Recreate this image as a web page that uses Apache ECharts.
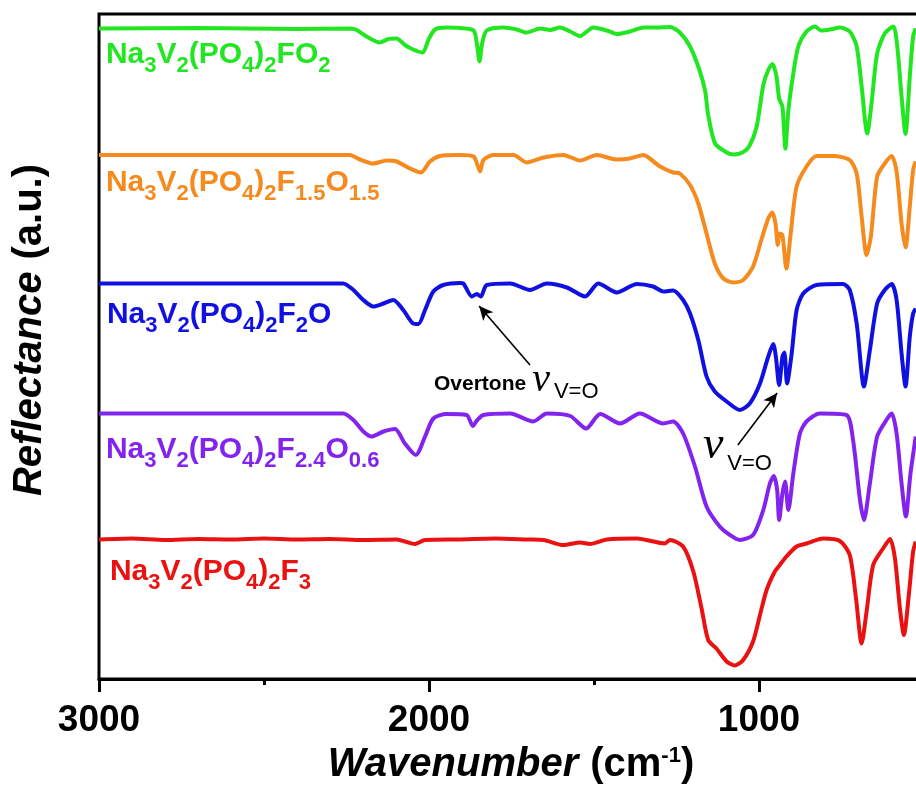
<!DOCTYPE html>
<html lang="en">
<head>
<meta charset="UTF-8">
<title>Reflectance spectra</title>
<script src="https://cdn.jsdelivr.net/npm/echarts@6.0.0/dist/echarts.min.js"></script>
<style>
  html, body { margin: 0; padding: 0; background: #fff; }
  #chart { width: 916px; height: 801px; }
</style>
</head>
<body>
<div id="chart"></div>
<script>
// spectra: [wavenumber (cm-1), reflectance (a.u., offset)]
var specFO2 = [[3000,130.1],[2700,130.2],[2400,130.0],[2240,130.1],[2219,129.8],[2189,128.5],[2149,127.3],[2123,128.0],[2098,128.1],[2073,126.8],[2048,125.9],[2019,125.3],[2002,127.8],[1982,129.9],[1947,130.3],[1906,130.2],[1865,129.7],[1855,127.1],[1847,123.5],[1839,127.1],[1825,129.7],[1774,130.3],[1734,129.9],[1704,129.3],[1663,130.1],[1633,129.8],[1603,130.3],[1572,129.5],[1542,128.6],[1502,130.3],[1461,129.7],[1431,129.0],[1391,129.5],[1350,130.3],[1310,130.3],[1270,130.4],[1240,129.3],[1209,126.5],[1179,121.5],[1163,117.5],[1154,112.8],[1133,107.1],[1098,105.3],[1077,104.9],[1050,105.3],[1030,106.5],[1007,110.5],[987,118.8],[972,121.8],[959,123.0],[947,120.5],[939,116.1],[929,114.5],[920,106.1],[911,113.8],[896,121.1],[881,126.5],[856,129.5],[831,130.5],[811,129.7],[785,129.9],[755,130.3],[725,129.5],[704,126.5],[689,118.5],[672,109.1],[659,115.1],[642,125.1],[619,129.1],[593,130.5],[581,126.5],[568,116.5],[556,109.0],[543,120.5],[533,128.5],[525,130.1]];

var specF15O15 = [[3000,104.8],[2700,104.8],[2400,104.8],[2240,104.8],[2209,103.9],[2169,103.1],[2128,103.7],[2098,103.5],[2058,102.1],[2025,101.3],[1997,103.5],[1967,104.6],[1906,104.8],[1865,104.5],[1853,102.8],[1845,101.5],[1835,103.8],[1805,104.8],[1744,104.8],[1704,103.3],[1653,104.3],[1593,104.8],[1542,103.7],[1492,104.8],[1431,103.9],[1391,104.1],[1350,104.8],[1331,104.1],[1300,102.5],[1260,101.3],[1240,101.1],[1209,98.8],[1184,95.1],[1159,89.1],[1134,83.1],[1108,80.1],[1078,79.3],[1048,79.8],[1018,82.5],[993,87.8],[972,92.1],[960,93.3],[950,91.1],[943,86.8],[937,89.1],[929,88.8],[917,82.1],[904,89.1],[886,98.5],[856,102.5],[826,104.6],[775,104.6],[725,103.8],[704,101.1],[689,92.5],[674,84.8],[661,88.5],[642,100.5],[619,103.1],[598,104.6],[583,101.5],[568,91.1],[556,86.3],[543,94.5],[533,101.8],[525,103.5]];

var specF2O = [[3000,79.1],[2700,79.1],[2400,79.1],[2260,79.1],[2229,77.8],[2199,75.8],[2169,74.5],[2138,75.1],[2108,75.8],[2078,73.8],[2048,71.1],[2032,71.0],[2012,73.8],[1987,77.5],[1957,78.8],[1906,79.2],[1896,79.1],[1870,76.5],[1855,77.0],[1843,76.5],[1825,78.8],[1754,79.1],[1694,77.8],[1643,79.1],[1582,78.3],[1527,76.5],[1487,79.1],[1431,77.3],[1370,79.0],[1321,78.5],[1290,77.5],[1260,77.7],[1230,75.8],[1209,73.1],[1184,67.8],[1159,60.5],[1134,57.5],[1098,55.5],[1058,53.8],[1028,55.1],[997,59.1],[972,64.5],[957,67.0],[949,64.5],[939,58.8],[929,64.5],[923,65.3],[915,59.1],[901,65.1],[886,73.8],[866,77.1],[826,78.8],[745,79.0],[725,77.8],[704,71.1],[682,58.5],[664,65.8],[642,75.1],[619,77.8],[598,79.0],[583,75.8],[568,65.1],[556,58.5],[543,68.5],[533,73.1],[525,74.1]];

var specF24O06 = [[3000,53.1],[2700,53.1],[2400,53.1],[2260,53.1],[2229,51.8],[2199,49.5],[2174,48.5],[2138,49.5],[2103,50.0],[2073,47.1],[2040,44.8],[2012,48.5],[1987,52.1],[1947,53.0],[1886,52.8],[1867,50.6],[1855,51.7],[1835,52.8],[1754,53.1],[1684,51.5],[1643,53.1],[1572,52.6],[1524,50.1],[1481,53.0],[1421,51.1],[1361,53.1],[1290,51.1],[1260,51.5],[1230,49.1],[1194,42.5],[1159,34.5],[1119,30.5],[1088,28.8],[1058,27.8],[1018,28.8],[987,33.8],[967,39.1],[955,40.6],[945,37.8],[939,31.8],[929,37.1],[921,39.5],[911,33.8],[896,41.1],[876,49.1],[856,51.5],[816,53.1],[735,52.8],[715,47.8],[694,35.8],[682,31.8],[664,39.1],[642,48.5],[614,51.8],[598,53.1],[583,49.1],[568,39.1],[555,32.5],[541,41.1],[525,48.5]];

var specF3 = [[3000,27.9],[2900,28.1],[2800,27.8],[2700,28.0],[2600,27.9],[2500,28.1],[2400,27.9],[2300,28.0],[2200,27.8],[2100,27.9],[2073,27.5],[2043,27.0],[2012,27.8],[1906,27.9],[1800,28.1],[1700,27.9],[1653,27.8],[1593,26.8],[1542,27.3],[1512,27.0],[1461,27.9],[1370,28.1],[1285,27.1],[1270,27.8],[1230,26.5],[1199,21.5],[1174,14.1],[1154,7.8],[1129,6.1],[1098,3.5],[1073,2.7],[1048,3.8],[1018,7.5],[997,12.8],[977,17.8],[952,21.5],[937,22.8],[917,24.5],[886,26.5],[856,27.1],[805,28.1],[755,27.6],[725,24.8],[706,16.1],[689,7.1],[674,13.5],[654,22.8],[624,26.1],[603,28.0],[588,24.1],[573,14.1],[561,8.8],[545,17.5],[533,25.5],[525,27.5]];

var seriesColors = ['#22e622', '#f58a1f', '#1010e0', '#8224ee', '#ea1111'];
var xTickLabels = [3000, 2000, 1000];

// formula labels (rich text); anchor = top-left corner in data space
var formulaLabels = [
  '{m|Na}{s|3}{m|V}{s|2}{m|(PO}{s|4}{m|)}{s|2}{m|FO}{s|2}',
  '{m|Na}{s|3}{m|V}{s|2}{m|(PO}{s|4}{m|)}{s|2}{m|F}{s|1.5}{m|O}{s|1.5}',
  '{m|Na}{s|3}{m|V}{s|2}{m|(PO}{s|4}{m|)}{s|2}{m|F}{s|2}{m|O}',
  '{m|Na}{s|3}{m|V}{s|2}{m|(PO}{s|4}{m|)}{s|2}{m|F}{s|2.4}{m|O}{s|0.6}',
  '{m|Na}{s|3}{m|V}{s|2}{m|(PO}{s|4}{m|)}{s|2}{m|F}{s|3}'
];
var labelAnchors = [[2979,127.9],[2979,102.2],[2976,75.9],[2979,48.9],[2967,24.5]];

// arrows: [from, to]
var arrows = [
  [[1694,62.8],[1848,74.6]],
  [[1064,46.8],[945,57.2]]
];
var noteAnchors = [[1985,63.8],[1170,51.8]];

var allSpectra = [specFO2, specF15O15, specF2O, specF24O06, specF3];

var chart = echarts.init(document.getElementById('chart'));

var series = allSpectra.map(function (d, i) {
  var s = {
    type: 'line',
    data: d,
    showSymbol: false,
    smooth: 0.25,
    lineStyle: { color: seriesColors[i], width: 4 },
    itemStyle: { color: seriesColors[i] },
    emphasis: { disabled: true },
    silent: true
  };
  if (i === allSpectra.length - 1) {
    s.markLine = {
      silent: true,
      symbol: ['none', 'arrow'],
      symbolSize: [10, 14],
      lineStyle: { color: '#000', width: 1.6, type: 'solid' },
      label: { show: false },
      emphasis: { disabled: true },
      data: arrows.map(function (a) {
        return [{ coord: a[0] }, { coord: a[1] }];
      })
    };
  }
  return s;
});

var option = {
  animation: false,
  backgroundColor: '#fff',
  grid: {
    left: 99, top: 14, right: -173, bottom: 122,
    show: true, borderColor: '#000', borderWidth: 3,
    outerBoundsMode: 'none'
  },
  xAxis: {
    type: 'value',
    inverse: true,
    min: 0, max: 3000, interval: 1000,
    axisLine: { lineStyle: { color: '#000', width: 3 } },
    axisTick: { show: true, inside: false, length: 13, lineStyle: { color: '#000', width: 3 } },
    minorTick: { show: true, splitNumber: 2, length: 6, lineStyle: { color: '#000', width: 3 } },
    axisLabel: {
      margin: 23,
      fontFamily: 'Liberation Sans', fontSize: 37, fontWeight: 'bold', color: '#000',
      formatter: function (v) { return xTickLabels.indexOf(v) >= 0 ? String(v) : ''; }
    },
    splitLine: { show: false }
  },
  yAxis: {
    type: 'value',
    min: 0, max: 133,
    axisLine: { show: true, lineStyle: { color: '#000', width: 3 } },
    axisTick: { show: false },
    axisLabel: { show: false },
    splitLine: { show: false }
  },
  series: series
};

chart.setOption(option);

// all tokens are top-aligned; padding-top sets each token's baseline
function tok(size, extra) {
  return Object.assign({
    fontFamily: 'Liberation Sans', fontSize: size, fontWeight: 'bold',
    lineHeight: 60, verticalAlign: 'top'
  }, extra || {});
}

function labelRich(color) {
  return {
    m: tok(30, { color: color }),
    s: tok(22, { color: color, padding: [15, 0, 0, 0] })
  };
}

var graphics = formulaLabels.map(function (txt, i) {
  var p = chart.convertToPixel({ gridIndex: 0 }, labelAnchors[i]);
  return {
    type: 'text', x: p[0], y: p[1], silent: true,
    style: { text: txt, rich: labelRich(seriesColors[i]), fill: seriesColors[i], align: 'left', verticalAlign: 'top' }
  };
});

var noteRich = {
  ov: tok(21, { color: '#000', padding: [14, 6, 0, 0] }),
  nu: tok(40, { color: '#000', fontFamily: 'Liberation Serif', fontWeight: 'normal', fontStyle: 'italic', padding: [0, 0, 0, 0] }),
  vo: tok(22, { color: '#000', fontWeight: 'normal', padding: [21, 0, 0, 4] }),
  nu2: tok(46, { color: '#000', fontFamily: 'Liberation Serif', fontWeight: 'normal', fontStyle: 'italic', padding: [3, 0, 0, 0] }),
  vo2: tok(22, { color: '#000', fontWeight: 'normal', padding: [33, 0, 0, 4] })
};
var noteTexts = ['{ov|Overtone}{nu|\u03bd}{vo|V=O}', '{nu2|\u03bd}{vo2|V=O}'];
noteTexts.forEach(function (txt, i) {
  var p = chart.convertToPixel({ gridIndex: 0 }, noteAnchors[i]);
  graphics.push({
    type: 'text', x: p[0], y: p[1], silent: true,
    style: { text: txt, rich: noteRich, fill: '#000', align: 'left', verticalAlign: 'top' }
  });
});

// axis titles
graphics.push({
  type: 'text', x: 30, y: 330, rotation: Math.PI / 2, silent: true,
  style: {
    text: '{i|Reflectance}{n|(a.u.)}',
    rich: {
      i: { fontFamily: 'Liberation Sans', fontSize: 40, fontWeight: 'bold', fontStyle: 'italic', color: '#000' },
      n: { fontFamily: 'Liberation Sans', fontSize: 40, fontWeight: 'bold', color: '#000', padding: [0, 0, 0, 12] }
    },
    fill: '#000', align: 'center', verticalAlign: 'middle'
  }
});
graphics.push({
  type: 'text', x: 511, y: 745, silent: true,
  style: {
    text: '{i|Wavenumber}{p|(cm}{s|-1}{n|)}',
    rich: {
      i: tok(40, { color: '#000', fontStyle: 'italic' }),
      p: tok(40, { color: '#000', padding: [0, 0, 0, 12] }),
      n: tok(40, { color: '#000' }),
      s: tok(22, { color: '#000', padding: [0, 0, 0, 0] })
    },
    fill: '#000', align: 'center', verticalAlign: 'top'
  }
});

chart.setOption({ graphic: graphics });
window.onresize = function () { chart.resize(); };
</script>
</body>
</html>
